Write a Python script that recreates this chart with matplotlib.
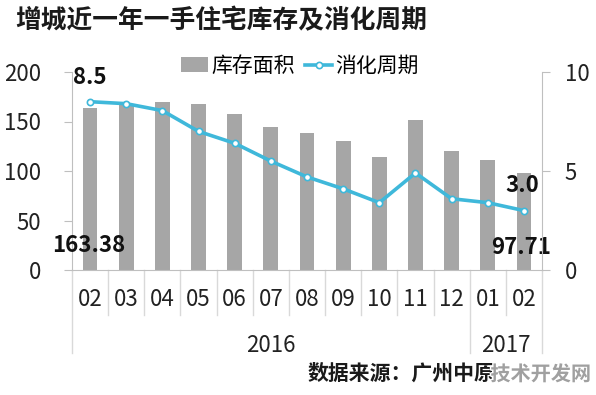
import matplotlib
matplotlib.use("Agg")
import matplotlib.pyplot as plt
import matplotlib.patheffects as pe

plt.rcParams['font.family'] = ['Noto Sans CJK SC', 'DejaVu Sans']

months = ["02", "03", "04", "05", "06", "07", "08", "09", "10", "11", "12", "01", "02"]
years = ["2016", "2017"]
inventory = [163.38, 168, 170, 168, 158, 144, 138, 130, 114, 152, 120, 111, 97.71]
cycle = [8.5, 8.4, 8.05, 7.0, 6.4, 5.5, 4.7, 4.1, 3.4, 4.9, 3.6, 3.4, 3.0]
title = "增城近一年一手住宅库存及消化周期"
source = "数据来源：广州中原"
watermark = "技术开发网"
bar_name = "库存面积"
line_name = "消化周期"

BAR_C = "#A6A6A6"
LINE_C = "#3FB8DA"
AXIS_C = "#BFBFBF"
DIV_C = "#D9D9D9"

fig = plt.figure(figsize=(5.96, 3.95), dpi=100)
W, H = 596, 395
ax = fig.add_axes([72 / W, 1 - 270 / H, 470 / W, 198 / H])
ax2 = ax.twinx()

x = list(range(len(months)))
bars = ax.bar(x, inventory, width=0.41, color=BAR_C, zorder=2, label=bar_name)
line, = ax2.plot(x, cycle, color=LINE_C, lw=2.6, marker='o', ms=4.5,
                 mfc='white', mec=LINE_C, mew=1.2, zorder=3, label=line_name)

ax.set_xlim(-0.5, len(months) - 0.5)
ax.set_ylim(0, 200)
ax2.set_ylim(0, 10)
ax.set_yticks([0, 50, 100, 150, 200])
ax2.set_yticks([0, 5, 10])

for a in (ax, ax2):
    a.spines['top'].set_visible(False)
ax.spines['right'].set_visible(False)
ax2.spines['left'].set_visible(False)
ax2.spines['bottom'].set_visible(False)
ax.spines['left'].set_color(AXIS_C)
ax.spines['bottom'].set_color(AXIS_C)
ax2.spines['right'].set_color(AXIS_C)

ax.tick_params(axis='y', length=6, color=AXIS_C, labelsize=16, pad=16.5, labelcolor='#222222')
ax2.tick_params(axis='y', length=6, color=AXIS_C, labelsize=16, pad=10.5, labelcolor='#222222')
ax.set_xticks([])

tr = ax.get_xaxis_transform()
for i, m in enumerate(months):
    ax.text(i, -30 / 198, m, transform=tr, ha='center', va='center', fontsize=16, color='#222222')
long_pos = [-0.5, 10.5, len(months) - 0.5]
for i in range(len(months) + 1):
    xp = i - 0.5
    yend = -83 / 198 if xp in long_pos else -45 / 198
    ax.plot([xp, xp], [0, yend], transform=tr, color=DIV_C, lw=1, clip_on=False, zorder=1)
ax.text(5, -76 / 198, years[0], transform=tr, ha='center', va='center', fontsize=16, color='#222222')
ax.text(11.5, -76 / 198, years[1], transform=tr, ha='center', va='center', fontsize=16, color='#222222')

ax.annotate(f"{inventory[0]:.2f}", (x[0], 0), xytext=(-1, 17.5), textcoords='offset points',
            ha='center', va='center', fontsize=16, fontweight='bold', color='#111111', zorder=5)
ax.annotate(f"{inventory[-1]:.2f}", (x[-1], 0), xytext=(-2, 16.5), textcoords='offset points',
            ha='center', va='center', fontsize=16, fontweight='bold', color='#111111', zorder=5)
ax2.annotate(f"{cycle[0]:.1f}", (x[0], cycle[0]), xytext=(0, 17.5), textcoords='offset points',
             ha='center', va='center', fontsize=16, fontweight='bold', color='#111111')
ax2.annotate(f"{cycle[-1]:.1f}", (x[-1], cycle[-1]), xytext=(-1, 18), textcoords='offset points',
             ha='center', va='center', fontsize=16, fontweight='bold', color='#111111')

fig.text(15 / W, 1 - 21 / H, title, ha='left', va='center', fontsize=18.5, fontweight='bold', color='#1a1a1a')

fig.legend(handles=[bars, line], loc='center', bbox_to_anchor=(300 / W, 1 - 66 / H), ncol=2,
           frameon=False, fontsize=15, handlelength=1.3, handletextpad=0.15, columnspacing=0.5,
           borderpad=0, numpoints=1)

fig.text(308 / W, 1 - 373 / H, source, ha='left', va='center', fontsize=15, fontweight='bold', color='#1a1a1a')
fig.text(591 / W, 1 - 374 / H, watermark, ha='right', va='center', fontsize=14.5, fontweight='bold',
         color='#A0A0A0', path_effects=[pe.withStroke(linewidth=2, foreground='white')])

fig.savefig("out.png", dpi=100, facecolor='white')
